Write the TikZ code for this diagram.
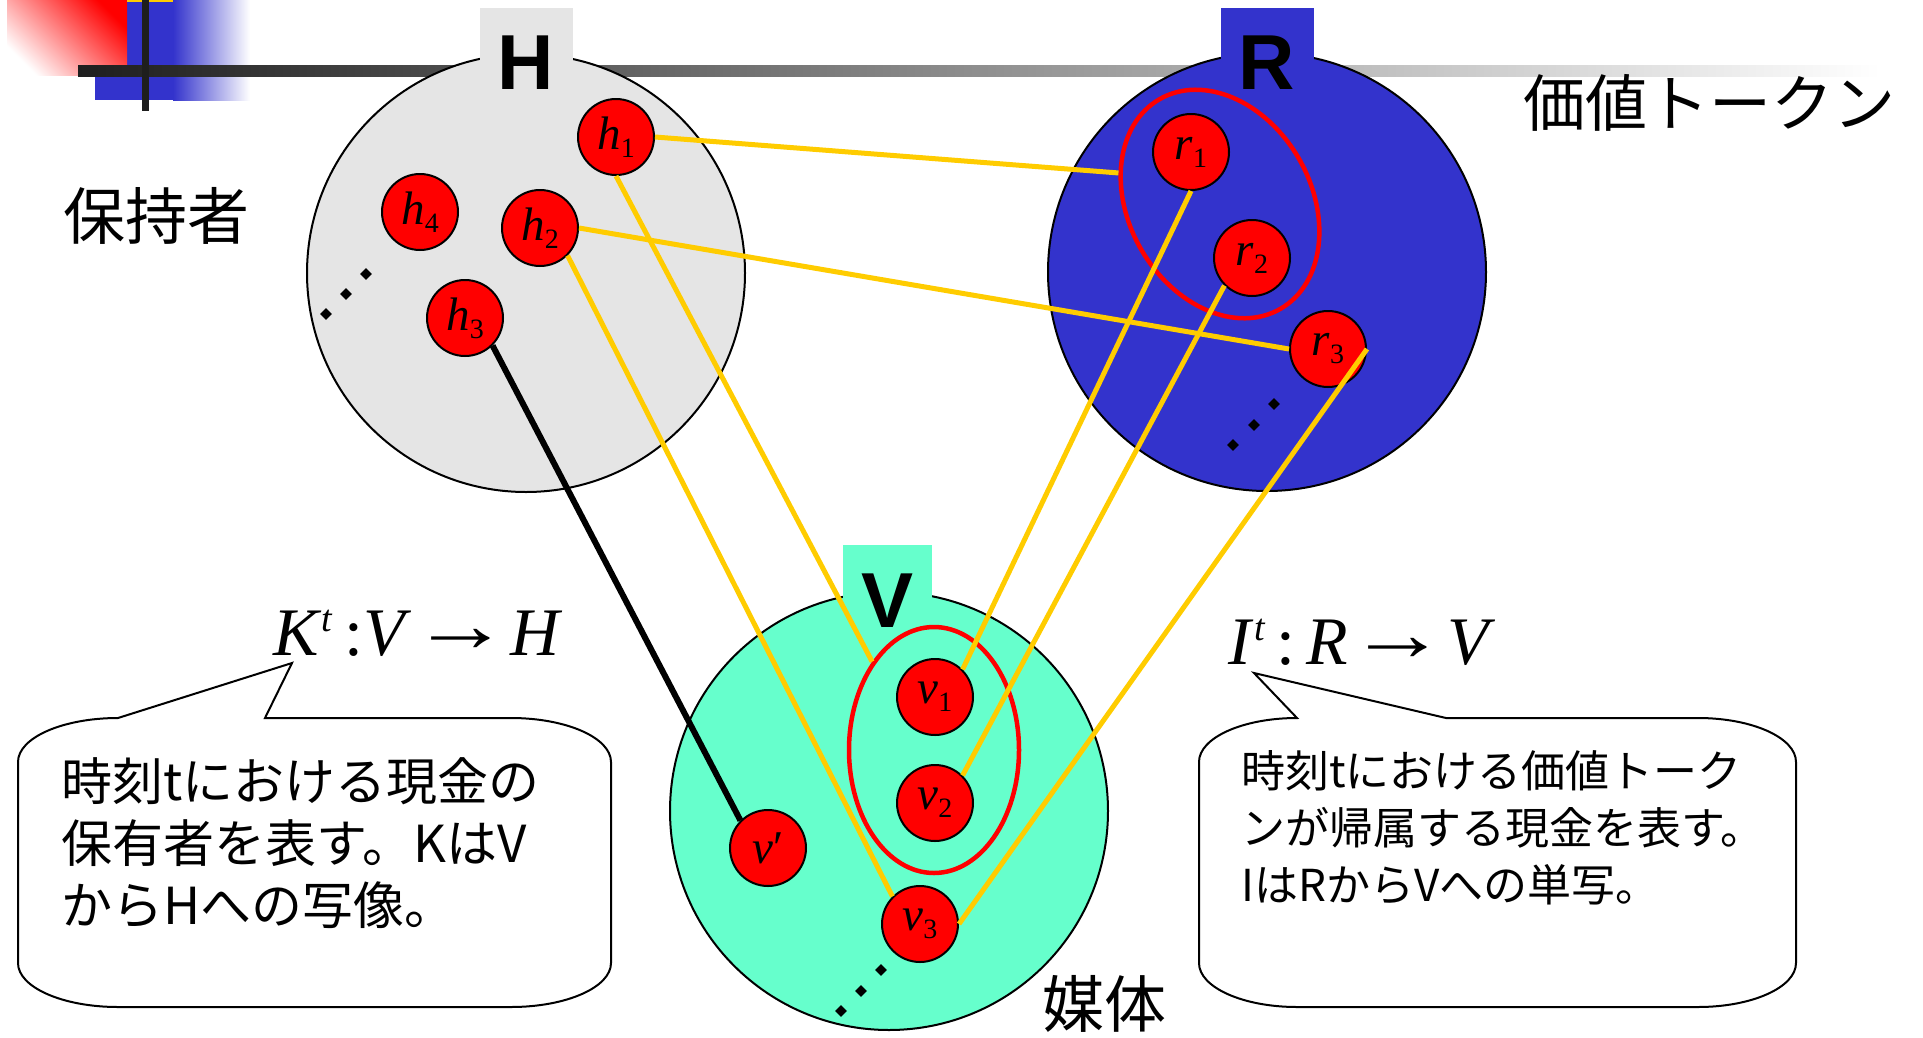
\documentclass[tikz,border=0pt]{standalone}
\usepackage{fontspec}
\usepackage{graphicx}
\setmainfont{Liberation Serif}
\newfontfamily\jpfont{Noto Sans CJK JP}
\newfontfamily\labelsans{Liberation Sans}
\usetikzlibrary{shapes.geometric}
\definecolor{holdergray}{HTML}{E5E5E5}
\definecolor{tokenblue}{HTML}{3333CC}
\definecolor{mediumgreen}{HTML}{66FFCC}
\definecolor{tokenred}{HTML}{FF0000}
\definecolor{linkyellow}{HTML}{FFCC00}
\definecolor{bardark}{HTML}{1E1E1E}
\definecolor{barmid}{HTML}{B4B4B4}
\newcommand{\toklabel}[2]{\textit{#1}\raisebox{-8pt}{\fontsize{28}{28}\selectfont #2}}
\newcommand{\suptee}{\raisebox{24pt}{\fontsize{38}{38}\selectfont\textit{t}}}
\newcommand{\maparrow}{\raisebox{4pt}{\scalebox{1.45}[1.15]{→}}}

\begin{document}
\begin{tikzpicture}[
    x=1pt, y=-1pt,
    setcircle/.style={circle, draw=black, line width=2pt, minimum size=438pt, inner sep=0pt},
    token/.style={circle, draw=black, line width=2pt, fill=tokenred, minimum size=76pt, inner sep=0pt, font=\fontsize{47}{47}\selectfont},
    tokengroup/.style={ellipse, draw=tokenred, line width=4.5pt, inner sep=0pt},
    linkline/.style={linkyellow, line width=5pt},
    dotmark/.style={diamond, fill=black, inner sep=0pt, minimum size=12pt},
    setlabel/.style={font=\labelsans\bfseries\fontsize{78}{78}\selectfont, inner sep=0pt},
    jptext/.style={font=\jpfont\fontsize{62}{62}\selectfont, inner sep=0pt},
    maplabel/.style={font=\fontsize{68}{68}\selectfont, inner sep=0pt},
    bubble/.style={draw=black, line width=2pt, fill=white}
]
    \useasboundingbox (0,0) rectangle (1923,1037);

    % Title decoration
    \fill[tokenblue] (95,0) rectangle (173,100);
    \shade[left color=tokenblue, right color=white] (173,0) rectangle (250,100);
    \shade[top color=red, bottom color=white, shading angle=-45] (7,0) rectangle (127,75);
    \fill[linkyellow] (127,0) rectangle (173,2);
    \shade[left color=bardark, middle color=barmid, right color=white] (78,65) rectangle (1880,76);
    \fill[bardark] (142,0) rectangle (149,111);

    % Holders H
    \node[setcircle, fill=holdergray] (Hset) at (526,273) {};
    \fill[holdergray] (480,8) rectangle (573,82);
    \node[setlabel] (Hlab) at (526,63) {H};

    % Value tokens R
    \node[setcircle, fill=tokenblue] (Rset) at (1267,272) {};
    \fill[tokenblue] (1221,8) rectangle (1314,82);
    \node[setlabel] (Rlab) at (1267,63) {R};

    % Media V
    \node[setcircle, fill=mediumgreen] (Vset) at (889,811) {};
    \fill[mediumgreen] (843,545) rectangle (932,622);
    \node[setlabel] (Vlab) at (888,601) {V};

    % Side titles
    \node[jptext] (holdertitle) at (156,216) {保持者};
    \node[jptext] (tokentitle) at (1709,103) {価値トークン};
    \node[jptext] (mediatitle) at (1104,1004) {媒体};

    % Groups
    \node[tokengroup, minimum width=242pt, minimum height=182pt, rotate=-60] (rgroup) at (1220,204) {};
    \node[tokengroup, minimum width=170pt, minimum height=246pt] (vgroup) at (934,750) {};

    % Tokens
    \node[token] (h1) at (616,137) {\toklabel{h}{1}};
    \node[token] (h2) at (540,228) {\toklabel{h}{2}};
    \node[token] (h3) at (465,318) {\toklabel{h}{3}};
    \node[token] (h4) at (420,212) {\toklabel{h}{4}};
    \node[token] (r1) at (1191,152) {\toklabel{r}{1}};
    \node[token] (r2) at (1252,258) {\toklabel{r}{2}};
    \node[token] (r3) at (1328,349) {\toklabel{r}{3}};
    \node[token] (v1) at (935,697) {\toklabel{v}{1}};
    \node[token] (v2) at (935,803) {\toklabel{v}{2}};
    \node[token] (v3) at (920,924) {\toklabel{v}{3}};
    \node[token] (vp) at (768,848) {\textit{v}′};

    % Continuation dots
    \foreach \dx/\dy in {366/274, 346/294, 326/314, 1274/404, 1254/425, 1233/445, 881/970, 861/991, 841/1011}
        \node[dotmark] at (\dx,\dy) {};

    % Mappings
    \draw[linkline] (h1.east) -- (rgroup.223);
    \draw[linkline] (h1.south) -- (vgroup.125);
    \draw[linkline] (h2.east) -- (r3.west);
    \draw[linkline] (h2.-45) -- (v3.135);
    \draw[linkline] (r1.south) -- (v1.45);
    \draw[linkline] (r2.225) -- (v2.45);
    \draw[linkline] (r3.east) -- (v3.east);
    \draw[black, line width=6pt] (h3.-45) -- (vp.135);

    % Map K
    \node[maplabel] (Kmap) at (418,633) {\textit{K}\suptee\,:\textit{V}\maparrow\textit{H}};
    \coordinate (Ktip) at (292,663);
    \draw[bubble] (118,718) -- (Ktip) -- (265,718) -- (511,718)
        arc[start angle=90, end angle=0, x radius=100pt, y radius=44pt] -- (611,963)
        arc[start angle=0, end angle=-90, x radius=100pt, y radius=44pt] -- (118,1007)
        arc[start angle=-90, end angle=-180, x radius=100pt, y radius=44pt] -- (18,762)
        arc[start angle=180, end angle=90, x radius=100pt, y radius=44pt] -- cycle;
    \node[anchor=north west, align=left, inner sep=0pt, font=\jpfont\fontsize{51}{62}\selectfont] (Ktext) at (61,757)
        {時刻tにおける現金の\\保有者を表す。KはV\\からHへの写像。};

    % Map I
    \node[maplabel] (Imap) at (1362,642) {\textit{I}\suptee\,:\,\textit{R}\maparrow\textit{V}};
    \coordinate (Itip) at (1254,673);
    \draw[bubble] (1297,718) -- (Itip) -- (1446,718) -- (1698,718)
        arc[start angle=90, end angle=0, x radius=98pt, y radius=44pt] -- (1796,963)
        arc[start angle=0, end angle=-90, x radius=98pt, y radius=44pt] -- (1297,1007)
        arc[start angle=-90, end angle=-180, x radius=98pt, y radius=44pt] -- (1199,762)
        arc[start angle=180, end angle=90, x radius=98pt, y radius=44pt] -- cycle;
    \node[anchor=north west, align=left, inner sep=0pt, font=\jpfont\fontsize{44}{57}\selectfont] (Itext) at (1241,750)
        {時刻tにおける価値トーク\\ンが帰属する現金を表す。\\IはRからVへの単写。};

\end{tikzpicture}
\end{document}
